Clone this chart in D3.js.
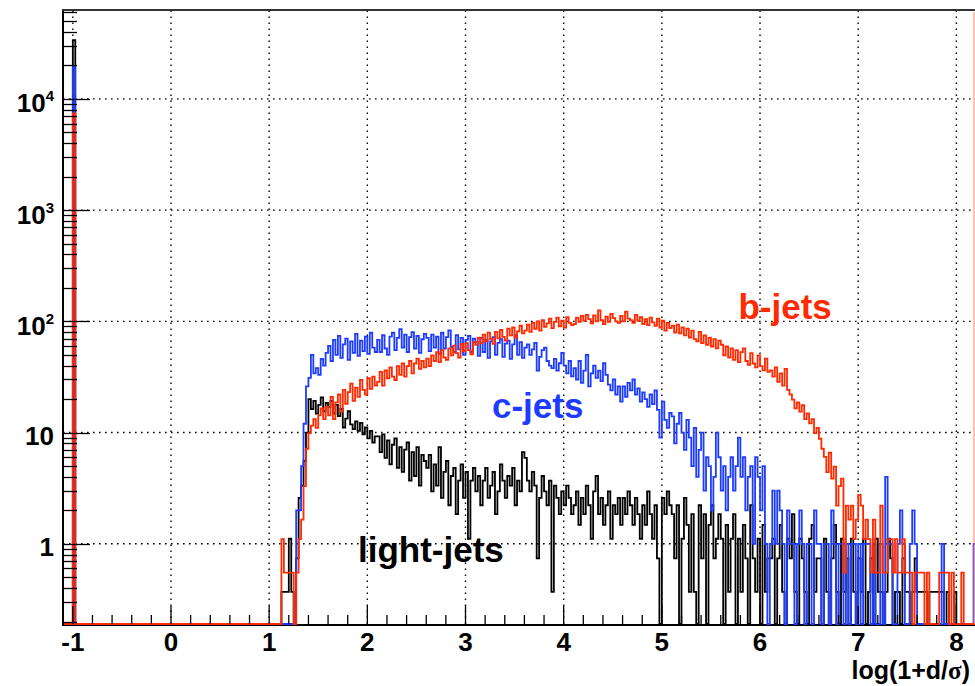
<!DOCTYPE html>
<html>
<head>
<meta charset="utf-8">
<script src="https://cdn.jsdelivr.net/npm/d3@7"></script>
<style>
  html, body { margin: 0; padding: 0; background: #fff; }
  svg { display: block; font-family: "Liberation Sans", Arial, Helvetica, sans-serif; font-weight: bold; }
</style>
</head>
<body>
<svg id="chart" width="975" height="686"></svg>
<script>
// binning of the log(1+d/sigma) histograms
const binWidth = 0.025;
const histLow = -1.1, histHigh = 8.2;
const bodyStart = 1.1;     // first filled bin after the spike
const spikeEdge = -1.0;    // left edge of the d<0 spike bin

// weight of one entry for each sample
const bWeight = 0.55, cWeight = 1, lightWeight = 0.37;

// entries in the spike bin
const bSpike = 13500, cSpike = 19300, lightSpike = 91000;

// entries per bin from 1.1 upward, 20 bins (0.5 units) per row
const bJets = [
  0, 2, 1, 1, 1, 1, 0, 1, 2, 3, 6, 13, 18, 21, 24, 20, 26, 30, 24, 31,
  26, 38, 24, 34, 40, 28, 44, 33, 42, 50, 35, 46, 38, 54, 44, 40, 56, 45, 58, 48,
  52, 64, 48, 66, 56, 70, 58, 54, 72, 60, 76, 58, 72, 80, 62, 76, 84, 68, 80, 70,
  84, 72, 90, 80, 96, 78, 100, 86, 82, 104, 90, 110, 94, 86, 114, 98, 116, 100, 92, 118,
  112, 130, 116, 138, 120, 144, 126, 114, 146, 128, 152, 132, 122, 156, 136, 160, 130, 148, 166, 142,
  150, 170, 146, 176, 156, 182, 150, 186, 162, 174, 192, 158, 180, 196, 164, 184, 160, 198, 176, 168,
  172, 196, 180, 204, 184, 208, 190, 174, 206, 182, 228, 186, 172, 200, 180, 212, 194, 182, 176, 204,
  182, 222, 192, 186, 176, 208, 184, 198, 172, 190, 168, 196, 178, 166, 192, 160, 184, 150, 176, 158,
  166, 144, 170, 142, 160, 136, 156, 130, 150, 126, 120, 146, 116, 136, 112, 130, 108, 126, 104, 122,
  112, 90, 108, 86, 104, 82, 100, 78, 96, 104, 80, 74, 94, 76, 70, 90, 72, 66, 84, 64,
  66, 58, 70, 52, 62, 48, 68, 44, 40, 36, 30, 34, 28, 32, 24, 27, 22, 24, 18, 20,
  16, 13, 11, 8, 12, 7, 9, 4, 6, 7, 1, 4, 3, 4, 2, 3, 5, 4, 2, 3,
  2, 1, 3, 1, 1, 4, 1, 1, 2, 2, 1, 2, 1, 1, 2, 1, 1, 1, 0, 1,
  1, 1, 1, 0, 1, 0, 0, 0, 0, 1, 1, 1, 1, 0, 1, 0, 0, 0, 1, 0,
  0, 0, 0, 0
];

const cJets = [
  0, 0, 0, 0, 0, 0, 0, 2, 2, 5, 12, 26, 31, 50, 34, 38, 33, 46, 40, 52,
  60, 44, 68, 50, 74, 47, 62, 70, 45, 66, 52, 77, 49, 67, 54, 73, 51, 79, 58, 53,
  68, 53, 75, 57, 50, 73, 79, 55, 71, 85, 58, 76, 53, 72, 80, 57, 74, 52, 69, 77,
  71, 54, 76, 58, 73, 51, 79, 57, 72, 83, 59, 53, 75, 56, 71, 50, 68, 74, 53, 70,
  65, 49, 71, 53, 68, 47, 66, 72, 50, 64, 69, 48, 63, 67, 46, 62, 75, 50, 65, 47,
  58, 62, 50, 56, 64, 36, 48, 55, 58, 44, 40, 38, 46, 36, 42, 52, 40, 34, 44, 32,
  38, 30, 44, 28, 36, 50, 26, 34, 40, 31, 36, 29, 42, 33, 27, 24, 30, 22, 26, 19,
  26, 21, 28, 24, 30, 22, 25, 19, 23, 20, 17, 22, 18, 24, 16, 9, 19, 13, 11, 15,
  14, 8, 12, 15, 10, 7, 13, 9, 5, 11, 4, 7, 10, 3, 6, 5, 2, 4, 10, 6,
  3, 5, 2, 4, 6, 3, 5, 9, 4, 6, 2, 4, 5, 1, 6, 4, 2, 5, 1, 0,
  1, 3, 1, 3, 2, 1, 0, 2, 1, 1, 0, 1, 2, 1, 0, 1, 1, 0, 2, 1,
  1, 0, 1, 1, 0, 2, 1, 0, 1, 1, 0, 1, 0, 1, 1, 0, 1, 0, 1, 1,
  1, 0, 1, 0, 0, 1, 0, 4, 1, 1, 0, 0, 1, 2, 1, 0, 0, 1, 2, 1,
  0, 0, 0, 0, 0, 0, 0, 0, 0, 0, 1, 0, 0, 0, 0, 0, 0, 0, 0, 0,
  0, 0, 0, 1
];

const lightJets = [
  0, 1, 1, 1, 3, 1, 0, 2, 7, 9, 15, 27, 54, 44, 52, 40, 48, 56, 42, 50,
  46, 52, 40, 48, 38, 44, 30, 36, 42, 32, 29, 34, 28, 33, 26, 30, 24, 28, 22, 25,
  25, 18, 26, 16, 23, 14, 21, 24, 13, 20, 12, 19, 22, 10, 18, 11, 20, 9, 17, 15,
  13, 17, 8, 14, 9, 20, 7, 12, 15, 6, 11, 13, 5, 10, 14, 7, 12, 3, 10, 13,
  8, 11, 6, 10, 13, 7, 9, 12, 5, 8, 14, 10, 7, 11, 9, 13, 6, 10, 8, 18,
  16, 10, 8, 12, 9, 2, 7, 11, 8, 6, 10, 1, 9, 7, 5, 8, 6, 9, 7, 5,
  6, 8, 4, 7, 5, 9, 6, 3, 8, 11, 5, 7, 4, 6, 8, 3, 6, 5, 7, 4,
  7, 5, 8, 6, 4, 7, 5, 3, 6, 4, 8, 5, 3, 6, 2, 0, 7, 5, 8, 6,
  5, 2, 6, 0, 3, 7, 4, 1, 5, 1, 0, 6, 2, 5, 0, 4, 6, 2, 3, 5,
  3, 0, 4, 1, 3, 5, 0, 3, 1, 4, 2, 0, 6, 2, 1, 3, 0, 4, 1, 2,
  2, 3, 0, 2, 4, 1, 0, 3, 2, 5, 1, 0, 3, 2, 1, 0, 3, 4, 1, 2,
  2, 0, 3, 1, 0, 2, 4, 1, 0, 3, 1, 2, 0, 3, 1, 0, 2, 1, 3, 0,
  1, 2, 0, 3, 1, 1, 0, 1, 3, 2, 0, 1, 1, 0, 2, 1, 1, 0, 1, 2,
  1, 1, 1, 1, 0, 1, 1, 1, 1, 1, 1, 0, 1, 0, 0, 1, 0, 0, 0, 0,
  0, 0, 0, 0
];

const xLabels = [-1, 0, 1, 2, 3, 4, 5, 6, 7, 8];
const yDecades = [0, 1, 2, 3, 4];
const yMin = 0.19, yMax = 63000;

const svg = d3.select("#chart");
const plot = { left: 63, top: 10, right: 976, bottom: 624 };

const x = d3.scaleLinear().domain([histLow, histHigh]).range([plot.left, plot.right]);
const y = d3.scaleLog().domain([yMin, yMax]).range([plot.bottom, plot.top]);

// turn entry counts into step points over the whole axis range
function histPoints(counts, weight, spike) {
  const nBins = Math.round((histHigh - histLow) / binWidth);
  const first = Math.round((bodyStart - histLow) / binWidth);
  const spikeBin = Math.round((spikeEdge - histLow) / binWidth);
  const pts = [];
  for (let i = 0; i < nBins; i++) {
    let n = 0;
    if (i === spikeBin) n = spike;
    else if (i >= first && i - first < counts.length) n = counts[i - first];
    pts.push([histLow + i * binWidth, n * weight]);
  }
  pts.push([histHigh, pts[pts.length - 1][1]]);
  return pts;
}

// dotted grid
const grid = svg.append("g")
  .attr("stroke", "#000").attr("stroke-width", 1.4).attr("stroke-dasharray", "1.6,4.4");
grid.selectAll(".gx").data(xLabels).join("line").attr("class", "gx")
  .attr("x1", d => x(d)).attr("x2", d => x(d))
  .attr("y1", plot.bottom).attr("y2", plot.top);
grid.selectAll(".gy").data(yDecades).join("line").attr("class", "gy")
  .attr("x1", plot.left).attr("x2", plot.right)
  .attr("y1", d => y(10 ** d)).attr("y2", d => y(10 ** d));

// bottom axis line sits under the histograms
svg.append("line")
  .attr("x1", plot.left).attr("x2", plot.right)
  .attr("y1", plot.bottom + 1).attr("y2", plot.bottom + 1)
  .attr("stroke", "#000").attr("stroke-width", 2);

svg.append("clipPath").attr("id", "frame")
  .append("rect").attr("x", plot.left).attr("y", plot.top)
  .attr("width", plot.right - plot.left).attr("height", plot.bottom - plot.top + 1);

const line = d3.line()
  .x(d => x(d[0]))
  .y(d => y(Math.max(d[1], yMin)))
  .curve(d3.curveStepAfter);

const series = [
  { counts: lightJets, weight: lightWeight, spike: lightSpike, color: "#000000" },
  { counts: cJets, weight: cWeight, spike: cSpike, color: "#1e3cff" },
  { counts: bJets, weight: bWeight, spike: bSpike, color: "#ff2a00" }
];

const hists = svg.append("g").attr("clip-path", "url(#frame)");
hists.selectAll("path")
  .data(series)
  .join("path")
  .attr("d", s => line(histPoints(s.counts, s.weight, s.spike)))
  .attr("fill", "none")
  .attr("stroke", s => s.color)
  .attr("stroke-width", 1.8);

// thin red edge on the right border
svg.append("line")
  .attr("x1", plot.right - 2).attr("x2", plot.right - 2)
  .attr("y1", plot.top + 2).attr("y2", plot.bottom)
  .attr("stroke", "#ff8069").attr("stroke-width", 1);

// frame: left axis and top border
svg.append("line")
  .attr("x1", plot.left).attr("x2", plot.left)
  .attr("y1", plot.top).attr("y2", plot.bottom + 2)
  .attr("stroke", "#000").attr("stroke-width", 2);
svg.append("line")
  .attr("x1", plot.left - 1).attr("x2", plot.right)
  .attr("y1", plot.top).attr("y2", plot.top)
  .attr("stroke", "#333").attr("stroke-width", 2);

// y ticks (log)
const isDecade = d => Math.abs(Math.log10(d) - Math.round(Math.log10(d))) < 1e-9;
svg.append("g").selectAll("line")
  .data(y.ticks())
  .join("line")
  .attr("x1", plot.left)
  .attr("x2", d => plot.left + (isDecade(d) ? 27 : 14))
  .attr("y1", d => Math.round(y(d)) + 0.5).attr("y2", d => Math.round(y(d)) + 0.5)
  .attr("stroke", "#000").attr("stroke-width", 1.3);

// x ticks every 0.2
const xMinor = d3.range(-5, 41).map(k => k / 5);
svg.append("g").selectAll("line")
  .data(xMinor)
  .join("line")
  .attr("x1", d => x(d)).attr("x2", d => x(d))
  .attr("y1", plot.bottom)
  .attr("y2", d => plot.bottom - (Math.abs(d - Math.round(d)) < 1e-9 ? 18 : 9))
  .attr("stroke", "#000").attr("stroke-width", 1.3);

// y labels
const yl = svg.append("g").attr("font-size", 26).attr("text-anchor", "end").attr("fill", "#000");
yDecades.forEach(k => {
  const t = yl.append("text").attr("x", 54).attr("y", y(10 ** k) + (k < 2 ? 12 : 13.5));
  if (k === 0) t.text("1");
  else if (k === 1) t.text("10");
  else {
    t.append("tspan").text("10");
    t.append("tspan").attr("font-size", 15).attr("dy", -11).text(k);
  }
});

// x labels
svg.append("g").attr("font-size", 26).attr("text-anchor", "middle")
  .selectAll("text")
  .data(xLabels)
  .join("text")
  .attr("x", d => x(d))
  .attr("y", 651)
  .text(d => d);

// axis title
const title = svg.append("text")
  .attr("x", 970).attr("y", 679)
  .attr("font-size", 25).attr("text-anchor", "end");
title.append("tspan").text("log(1+d/");
title.append("tspan").attr("font-family", "'Liberation Serif', 'Times New Roman', serif").text("σ");
title.append("tspan").text(")");

// sample names
const names = [
  { text: "b-jets", at: [5.78, 105], color: "#ff2a00" },
  { text: "c-jets", at: [3.27, 13.5], color: "#1e3cff" },
  { text: "light-jets", at: [1.905, 0.69], color: "#000000" }
];
svg.append("g").attr("font-size", 35)
  .selectAll("text")
  .data(names)
  .join("text")
  .attr("x", d => x(d.at[0]))
  .attr("y", d => y(d.at[1]))
  .attr("fill", d => d.color)
  .text(d => d.text);
</script>
</body>
</html>
